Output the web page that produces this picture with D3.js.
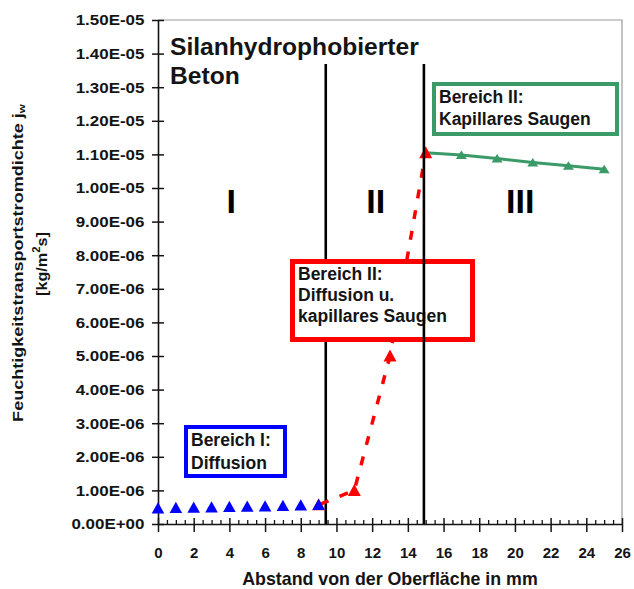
<!DOCTYPE html>
<html>
<head>
<meta charset="utf-8">
<script src="https://cdn.jsdelivr.net/npm/d3@7"></script>
<style>
  html, body { margin: 0; padding: 0; background: #fff; }
  svg { display: block; font-family: "Liberation Sans", Arial, sans-serif; font-weight: bold; }
</style>
</head>
<body>
<svg id="chart" width="634" height="589"></svg>
<script>
// Moisture flux density through silane-treated concrete versus depth (mm)
const diffusionX = [0, 1, 2, 3, 4, 5, 6, 7, 8, 9];
const diffusionY = [0.47e-6, 0.48e-6, 0.49e-6, 0.50e-6, 0.51e-6, 0.52e-6, 0.53e-6, 0.54e-6, 0.56e-6, 0.57e-6];
const transitionX = [9, 11, 13, 15];
const transitionY = [0.57e-6, 1.0e-6, 5.0e-6, 1.105e-5];
const capillaryX = [15, 17, 19, 21, 23, 25];
const capillaryY = [1.105e-5, 1.098e-5, 1.088e-5, 1.076e-5, 1.066e-5, 1.056e-5];

const zoneBounds = [9.4, 14.9];
const zoneLabels = ["I", "II", "III"];
const zoneLabelX = [4.1, 12.2, 20.3];

const yTicks = d3.range(0, 16).map(i => i * 1e-6);
const yTickLabels = ["0.00E+00", "1.00E-06", "2.00E-06", "3.00E-06", "4.00E-06", "5.00E-06",
  "6.00E-06", "7.00E-06", "8.00E-06", "9.00E-06", "1.00E-05", "1.10E-05", "1.20E-05",
  "1.30E-05", "1.40E-05", "1.50E-05"];
const xTicks = [0, 2, 4, 6, 8, 10, 12, 14, 16, 18, 20, 22, 24, 26];
const xMinorTicks = d3.range(0, 26.01, 0.5).filter(v => v % 2 !== 0);

const titleLines = ["Silanhydrophobierter", "Beton"];
const xTitle = "Abstand von der Oberfläche in mm";

const BLUE = "#0000ff", RED = "#ff0000", GREEN = "#3a9a68", INK = "#141414";

const svg = d3.select("#chart");
const x = d3.scaleLinear().domain([0, 26]).range([158, 622]);
const y = d3.scaleLinear().domain([0, 1.5e-5]).range([524, 20]);

// plot frame (top and right edges)
svg.append("path")
  .attr("d", `M${x(0)},${y(1.5e-5)}H${x(26)}V${y(0)}`)
  .attr("fill", "none").attr("stroke", "#9a9a9a").attr("stroke-width", 1.2);

// y axis with ticks crossing the axis line
const yAxis = svg.append("g")
  .attr("transform", `translate(${x(0)},0)`)
  .call(d3.axisLeft(y).tickValues(yTicks).tickFormat((d, i) => yTickLabels[i])
    .tickSizeInner(6).tickSizeOuter(0).tickPadding(6));
yAxis.select(".domain").attr("stroke", INK).attr("stroke-width", 1.6);
yAxis.selectAll(".tick line").attr("x1", 6).attr("stroke", INK).attr("stroke-width", 1.5);
yAxis.selectAll(".tick text")
  .attr("x", -12).attr("fill", INK)
  .attr("font-size", 15).attr("font-family", null)
  .attr("transform", "scale(1.13,1)");

// x axis: major ticks crossing, minor ticks inside
const xAxis = svg.append("g")
  .attr("transform", `translate(0,${y(0)})`)
  .call(d3.axisBottom(x).tickValues(xTicks).tickSizeInner(8).tickSizeOuter(0).tickPadding(15));
xAxis.select(".domain").attr("stroke", INK).attr("stroke-width", 1.6);
xAxis.selectAll(".tick line").attr("y1", -6).attr("stroke", INK).attr("stroke-width", 1.5);
xAxis.selectAll(".tick text").attr("fill", INK).attr("font-size", 15).attr("font-family", null);

const xMinor = svg.append("g")
  .attr("transform", `translate(0,${y(0)})`)
  .call(d3.axisBottom(x).tickValues(xMinorTicks).tickSize(-4).tickFormat(""));
xMinor.select(".domain").remove();
xMinor.selectAll(".tick line").attr("stroke", INK).attr("stroke-width", 1.3);

// axis titles
svg.append("text")
  .attr("x", 390).attr("y", 585)
  .attr("text-anchor", "middle").attr("font-size", 17.8).attr("fill", INK)
  .text(xTitle);

const yt1 = svg.append("text")
  .attr("transform", "translate(23,263) rotate(-90) scale(1.29,1)")
  .attr("text-anchor", "middle").attr("font-size", 14).attr("fill", INK);
yt1.append("tspan").text("Feuchtigkeitstransportstromdichte j");
yt1.append("tspan").attr("font-size", 9).attr("dy", 2).text("w");

const yt2 = svg.append("text")
  .attr("transform", "translate(47,264) rotate(-90) scale(1.12,1)")
  .attr("text-anchor", "middle").attr("font-size", 14.5).attr("fill", INK);
yt2.append("tspan").text("[kg/m");
yt2.append("tspan").attr("font-size", 10).attr("dy", -7).text("2");
yt2.append("tspan").attr("dy", 7).text("s]");

// chart title
svg.append("g").selectAll("text").data(titleLines).join("text")
  .attr("x", 170).attr("y", (d, i) => 55 + i * 29)
  .attr("font-size", 24.6).attr("fill", INK)
  .text(d => d);

// zone numerals
svg.append("g").selectAll("text").data(zoneLabels).join("text")
  .attr("x", (d, i) => x(zoneLabelX[i])).attr("y", 213)
  .attr("text-anchor", "middle").attr("font-size", 34).attr("fill", "#000")
  .text(d => d);

// triangle marker paths
const tri = (w, top, bottom) => `M0,${-top}L${w},${bottom}L${-w},${bottom}Z`;

// capillary suction series (solid green)
svg.append("path")
  .datum(capillaryX.map((v, i) => [v, capillaryY[i]]))
  .attr("d", d3.line().x(d => x(d[0])).y(d => y(d[1])))
  .attr("fill", "none").attr("stroke", GREEN).attr("stroke-width", 3);
svg.append("g").selectAll("path").data(capillaryX).join("path")
  .attr("transform", (d, i) => `translate(${x(d)},${y(capillaryY[i])})`)
  .attr("d", tri(5.5, 4.5, 4)).attr("fill", GREEN);

// first zone boundary
svg.append("line")
  .attr("x1", x(zoneBounds[0])).attr("x2", x(zoneBounds[0]))
  .attr("y1", 64).attr("y2", y(0))
  .attr("stroke", "#000").attr("stroke-width", 2.6);

// transition series (dashed red)
svg.append("path")
  .datum(transitionX.map((v, i) => [v, transitionY[i]]))
  .attr("d", d3.line().x(d => x(d[0])).y(d => y(d[1])))
  .attr("fill", "none").attr("stroke", RED).attr("stroke-width", 3.5)
  .attr("stroke-dasharray", "9,12").attr("stroke-dashoffset", -1.6);
svg.append("g").selectAll("path").data(transitionX).join("path")
  .attr("transform", (d, i) => `translate(${x(d)},${y(transitionY[i])})`)
  .attr("d", tri(6.5, 6.5, 5.5)).attr("fill", RED);

// diffusion series (blue markers only)
svg.append("g").selectAll("path").data(diffusionX).join("path")
  .attr("transform", (d, i) => `translate(${x(d)},${y(diffusionY[i])})`)
  .attr("d", tri(6.3, 6, 5.2)).attr("fill", BLUE);

// annotation boxes
function noteBox(r, color, sw, lines, tx, baselines) {
  const g = svg.append("g");
  g.append("rect")
    .attr("x", r[0]).attr("y", r[1]).attr("width", r[2]).attr("height", r[3])
    .attr("fill", "#fff").attr("stroke", color).attr("stroke-width", sw);
  g.selectAll("text").data(lines).join("text")
    .attr("x", tx).attr("y", (d, i) => baselines[i])
    .attr("font-size", 17.5).attr("fill", INK)
    .text(d => d);
}
noteBox([186, 427, 99, 49], BLUE, 4, ["Bereich I:", "Diffusion"], 191, [446, 469]);
noteBox([292.5, 261.5, 180, 78], RED, 5, ["Bereich II:", "Diffusion u.", "kapillares Saugen"], 298, [280, 301, 322]);
noteBox([434, 84, 183, 50], GREEN, 4, ["Bereich II:", "Kapillares Saugen"], 439, [103, 125]);

// second zone boundary, drawn over the red box
svg.append("line")
  .attr("x1", x(zoneBounds[1])).attr("x2", x(zoneBounds[1]))
  .attr("y1", 64).attr("y2", y(0))
  .attr("stroke", "#000").attr("stroke-width", 2.6);
</script>
</body>
</html>
